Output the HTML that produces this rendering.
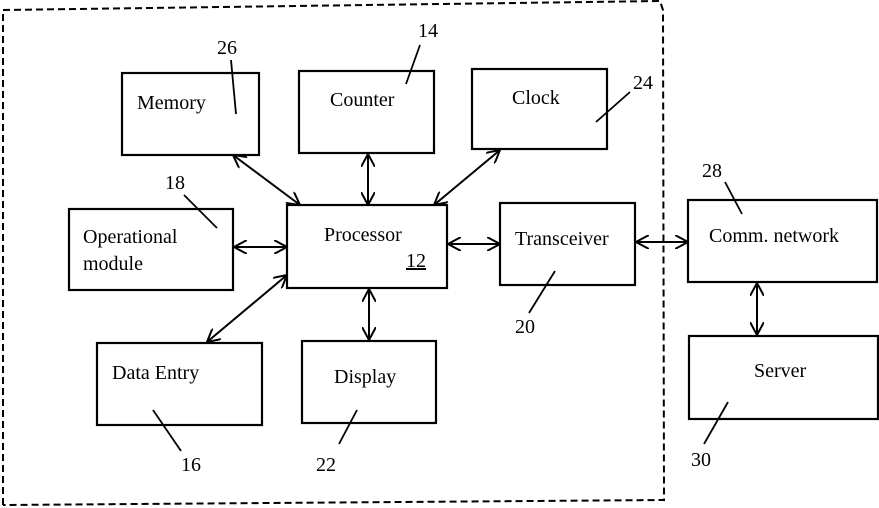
<!DOCTYPE html>
<html><head><meta charset="utf-8"><style>
html,body{margin:0;padding:0;background:#fff;}
svg{display:block;}
text{font-family:"Liberation Serif",serif;font-size:20px;fill:#000;}
</style></head><body>
<svg width="879" height="508" viewBox="0 0 879 508" xmlns="http://www.w3.org/2000/svg">
<defs>
<marker id="a" viewBox="0 0 14 14" refX="13" refY="7" markerWidth="14" markerHeight="14" markerUnits="userSpaceOnUse" orient="auto-start-reverse">
<path d="M0,0 L13,7 L0,14" fill="none" stroke="#000" stroke-width="2"/>
</marker>
</defs>
<g fill="none" stroke="#000">
<polyline points="3,505 3,10 660,1 663,10 664,500 3,505" stroke-width="2" stroke-dasharray="7,4"/>
<g stroke-width="2.2">
<rect x="122" y="73" width="137" height="82"/>
<rect x="299" y="71" width="135" height="82"/>
<rect x="472" y="69" width="135" height="80"/>
<rect x="69" y="209" width="164" height="81"/>
<rect x="287" y="205" width="160" height="83"/>
<rect x="500" y="203" width="135" height="82"/>
<rect x="688" y="200" width="189" height="82"/>
<rect x="689" y="336" width="189" height="83"/>
<rect x="97" y="343" width="165" height="82"/>
<rect x="302" y="341" width="134" height="82"/>
</g>
<g stroke-width="2" marker-start="url(#a)" marker-end="url(#a)">
<line x1="233" y1="155" x2="300" y2="205"/>
<line x1="368" y1="154" x2="368" y2="205"/>
<line x1="500" y1="150" x2="434" y2="205"/>
<line x1="234" y1="247" x2="287" y2="247"/>
<line x1="448" y1="244" x2="500" y2="244"/>
<line x1="636" y1="242" x2="688" y2="242"/>
<line x1="287" y1="275" x2="207" y2="342"/>
<line x1="369" y1="289" x2="369" y2="340"/>
<line x1="757" y1="283" x2="757" y2="335"/>
</g>
<g stroke-width="1.8">
<line x1="231" y1="60" x2="236" y2="114"/>
<line x1="420" y1="45" x2="406" y2="84"/>
<line x1="630" y1="92" x2="596" y2="122"/>
<line x1="184" y1="195" x2="217" y2="228"/>
<line x1="725" y1="182" x2="742" y2="214"/>
<line x1="555" y1="271" x2="529" y2="313"/>
<line x1="153" y1="410" x2="181" y2="451"/>
<line x1="357" y1="410" x2="339" y2="444"/>
<line x1="728" y1="402" x2="704" y2="444"/>
</g>
</g>
<text x="137" y="109">Memory</text>
<text x="330" y="106">Counter</text>
<text x="512" y="104">Clock</text>
<text x="83" y="243">Operational</text>
<text x="83" y="270">module</text>
<text x="324" y="241">Processor</text>
<text x="406" y="267" text-decoration="underline">12</text>
<text x="515" y="245">Transceiver</text>
<text x="709" y="242">Comm. network</text>
<text x="754" y="377">Server</text>
<text x="112" y="379">Data Entry</text>
<text x="334" y="383">Display</text>
<text x="217" y="54">26</text>
<text x="418" y="37">14</text>
<text x="633" y="89">24</text>
<text x="165" y="189">18</text>
<text x="702" y="177">28</text>
<text x="515" y="333">20</text>
<text x="181" y="471">16</text>
<text x="316" y="471">22</text>
<text x="691" y="466">30</text>
</svg>
</body></html>
